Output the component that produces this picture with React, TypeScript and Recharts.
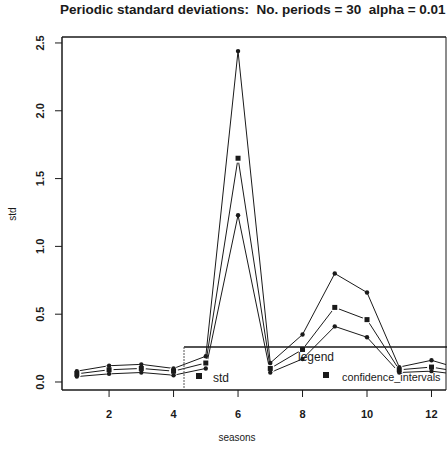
import { LineChart, Line, XAxis, YAxis, ReferenceLine } from "recharts";

// seasons and the three periodic std series (upper CI, std, lower CI)
const seasons = [1, 2, 3, 4, 5, 6, 7, 8, 9, 10, 11, 12, 13];
const upperCI = [0.08, 0.12, 0.13, 0.10, 0.19, 2.44, 0.14, 0.35, 0.80, 0.66, 0.11, 0.16, 0.09];
const stdValues = [0.06, 0.09, 0.10, 0.08, 0.14, 1.65, 0.10, 0.24, 0.55, 0.46, 0.09, 0.11, 0.07];
const lowerCI = [0.04, 0.06, 0.07, 0.05, 0.10, 1.23, 0.07, 0.17, 0.41, 0.33, 0.07, 0.08, 0.05];

const xTicks = [2, 4, 6, 8, 10, 12];
const yTicks = [0, 0.5, 1, 1.5, 2, 2.5];

const X_DOMAIN: [number, number] = [0.54, 12.45];
const Y_DOMAIN: [number, number] = [-0.059, 2.544];

const data = seasons.map((s, i) => ({
  season: s,
  upper: upperCI[i],
  std: stdValues[i],
  lower: lowerCI[i],
}));

const FONT = "'Liberation Sans', Arial, sans-serif";
const INK = "#1a1a1a";

const YTick = ({ x, y, payload }: any) => (
  <text
    x={x - 9}
    y={y}
    transform={`rotate(-90, ${x - 9}, ${y})`}
    textAnchor="middle"
    fontSize={11}
    fontWeight="bold"
    fontFamily={FONT}
    fill={INK}
  >
    {payload.value.toFixed(1)}
  </text>
);

const XTick = ({ x, y, payload }: any) => (
  <text x={x} y={y + 19} textAnchor="middle" fontSize={11} fontWeight="bold" fontFamily={FONT} fill={INK}>
    {payload.value}
  </text>
);

// square marker with white halo so the line stops short of the point
const SquareDot = ({ cx, cy }: any) => {
  if (cx == null || cy == null) return null;
  return (
    <g>
      <circle cx={cx} cy={cy} r={4.5} fill="#fff" />
      <rect x={cx - 2.5} y={cy - 2.5} width={5} height={5} fill={INK} />
    </g>
  );
};

const RoundDot = ({ cx, cy }: any) => {
  if (cx == null || cy == null) return null;
  return <circle cx={cx} cy={cy} r={2.2} fill={INK} />;
};

export default function App() {
  return (
    <div style={{ position: "absolute", left: 0, top: 0, width: 447, height: 450, background: "#fff" }}>
      <LineChart
        width={447}
        height={450}
        data={data}
        margin={{ top: 37, right: 1, bottom: 20, left: 12 }}
      >
        <XAxis
          type="number"
          dataKey="season"
          domain={X_DOMAIN}
          ticks={xTicks}
          allowDataOverflow
          height={40}
          tickSize={7}
          tick={<XTick />}
          stroke={INK}
          axisLine={{ stroke: INK, strokeWidth: 1.5 }}
          tickLine={{ stroke: INK }}
        />
        <YAxis
          type="number"
          domain={Y_DOMAIN}
          ticks={yTicks}
          allowDataOverflow
          width={50}
          tickSize={7}
          tick={<YTick />}
          stroke={INK}
          axisLine={{ stroke: INK, strokeWidth: 1.5 }}
          tickLine={{ stroke: INK }}
        />
        <ReferenceLine y={Y_DOMAIN[1]} stroke={INK} strokeWidth={1.5} />
        <ReferenceLine x={X_DOMAIN[1]} stroke={INK} strokeWidth={1} />
        <Line
          dataKey="std"
          stroke={INK}
          strokeWidth={1}
          dot={<SquareDot />}
          isAnimationActive={false}
        />
        <Line
          dataKey="upper"
          stroke={INK}
          strokeWidth={1}
          dot={<RoundDot />}
          isAnimationActive={false}
        />
        <Line
          dataKey="lower"
          stroke={INK}
          strokeWidth={1}
          dot={<RoundDot />}
          isAnimationActive={false}
        />
      </LineChart>

      {/* title and axis titles */}
      <div
        style={{
          position: "absolute",
          left: 60,
          top: 2,
          fontFamily: FONT,
          fontSize: 13.5,
          fontWeight: "bold",
          whiteSpace: "pre",
          color: INK,
        }}
      >
        {"Periodic standard deviations:  No. periods = 30  alpha = 0.01"}
      </div>
      <svg width={447} height={450} style={{ position: "absolute", left: 0, top: 0, pointerEvents: "none" }}>
        <text x={237} y={441} textAnchor="middle" fontSize={10} fontFamily={FONT} fill={INK}>
          seasons
        </text>
        <text x={16} y={214} transform="rotate(-90, 16, 214)" textAnchor="middle" fontSize={10} fontFamily={FONT} fill={INK}>
          std
        </text>

        {/* legend box */}
        <line x1={184} y1={347} x2={447} y2={347} stroke={INK} strokeWidth={1.5} />
        <line x1={184} y1={347} x2={184} y2={390} stroke="#555" strokeWidth={1} strokeDasharray="2 1" />
        <text x={298} y={361} fontSize={12} fontFamily={FONT} fill={INK}>
          legend
        </text>
        <rect x={196} y={373} width={6} height={6} fill={INK} />
        <text x={213} y={382} fontSize={12} fontFamily={FONT} fill={INK}>
          std
        </text>
        <rect x={323} y={372} width={6} height={6} fill={INK} />
        <text x={342} y={381} fontSize={10.8} fontFamily={FONT} fill={INK}>
          confidence_intervals
        </text>
      </svg>
    </div>
  );
}
